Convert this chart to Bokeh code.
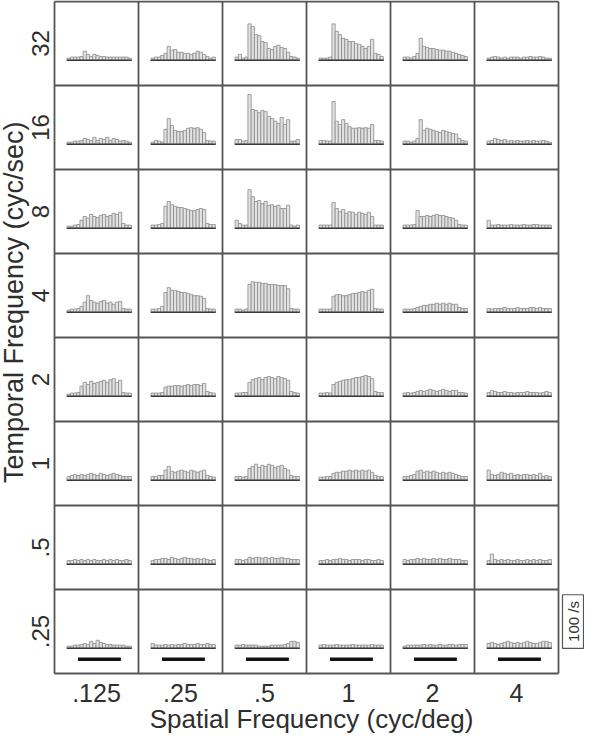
import numpy as np
from bokeh.plotting import figure
from bokeh.models import Range1d, ColumnDataSource
from bokeh.core.properties import value
from bokeh.embed import file_html
from bokeh.resources import INLINE

# ---------------- data ----------------
spatial_freq_labels = [".125", ".25", ".5", "1", "2", "4"]          # columns, left to right (cyc/deg)
temporal_freq_labels = ["32", "16", "8", "4", "2", "1", ".5", ".25"]  # rows, top to bottom (cyc/sec)
n_bins = 20
scale_bar_rate = 100  # spikes/s

# PSTH firing rates (spikes/s), one list of 20 bins per spatial frequency
psth_32 = [
    [4, 6, 6, 6, 7, 17, 11, 7, 11, 9, 7, 7, 6, 6, 6, 6, 6, 6, 6, 4],
    [4, 6, 6, 9, 13, 26, 19, 20, 15, 15, 13, 13, 11, 13, 17, 15, 11, 7, 4, 6],
    [6, 11, 4, 6, 68, 63, 48, 46, 35, 33, 22, 20, 26, 28, 24, 22, 15, 7, 6, 4],
    [4, 4, 4, 6, 68, 54, 48, 41, 39, 35, 35, 31, 30, 26, 22, 26, 39, 13, 11, 7],
    [6, 6, 4, 7, 13, 41, 26, 24, 22, 22, 20, 19, 19, 17, 17, 15, 13, 11, 9, 7],
    [4, 6, 7, 6, 4, 6, 4, 6, 6, 6, 4, 6, 6, 7, 6, 6, 7, 6, 4, 4],
]
psth_16 = [
    [4, 4, 6, 6, 7, 11, 9, 7, 13, 7, 11, 9, 13, 7, 11, 9, 6, 7, 6, 4],
    [4, 7, 6, 4, 28, 48, 35, 26, 24, 24, 26, 30, 31, 30, 31, 28, 22, 7, 6, 6],
    [9, 9, 6, 7, 93, 65, 63, 59, 63, 61, 52, 48, 43, 39, 50, 37, 46, 6, 6, 9],
    [7, 7, 6, 6, 80, 43, 37, 46, 39, 33, 30, 30, 31, 30, 31, 30, 37, 7, 7, 6],
    [6, 6, 4, 6, 11, 46, 26, 30, 28, 26, 24, 22, 26, 24, 22, 20, 19, 11, 7, 6],
    [6, 7, 11, 9, 7, 9, 6, 7, 6, 7, 6, 6, 7, 6, 7, 6, 6, 7, 6, 4],
]
psth_8 = [
    [4, 4, 6, 7, 15, 22, 19, 26, 22, 20, 24, 26, 22, 24, 28, 26, 30, 9, 6, 6],
    [6, 6, 7, 9, 41, 50, 44, 41, 39, 39, 37, 35, 33, 33, 35, 37, 35, 9, 7, 7],
    [15, 9, 6, 6, 72, 59, 50, 52, 46, 50, 43, 44, 41, 43, 37, 37, 43, 6, 4, 6],
    [6, 6, 6, 6, 48, 37, 31, 35, 28, 31, 30, 26, 30, 28, 26, 30, 22, 6, 6, 6],
    [6, 6, 6, 7, 33, 22, 22, 24, 22, 24, 26, 24, 24, 22, 20, 19, 15, 7, 6, 6],
    [15, 6, 6, 7, 6, 6, 6, 7, 6, 6, 6, 7, 6, 6, 7, 7, 6, 6, 6, 6],
]
psth_4 = [
    [4, 6, 6, 7, 11, 19, 31, 22, 19, 17, 20, 22, 17, 19, 15, 19, 20, 7, 6, 6],
    [6, 6, 7, 11, 37, 46, 41, 41, 39, 37, 37, 35, 33, 31, 31, 30, 26, 7, 6, 6],
    [6, 6, 4, 6, 52, 57, 56, 56, 54, 54, 52, 52, 52, 50, 50, 50, 44, 7, 6, 6],
    [6, 6, 6, 6, 30, 33, 33, 31, 31, 33, 35, 35, 37, 39, 37, 41, 43, 7, 6, 6],
    [6, 6, 6, 7, 9, 11, 13, 13, 15, 15, 17, 15, 17, 15, 17, 15, 15, 9, 7, 7],
    [7, 6, 7, 7, 7, 9, 7, 7, 7, 9, 7, 7, 7, 9, 9, 7, 9, 7, 7, 7],
]
psth_2 = [
    [4, 6, 6, 7, 19, 26, 22, 28, 24, 26, 28, 30, 26, 31, 33, 26, 30, 7, 6, 6],
    [6, 6, 6, 7, 17, 19, 19, 20, 20, 19, 20, 22, 20, 22, 22, 20, 24, 9, 7, 6],
    [6, 6, 7, 7, 26, 31, 33, 35, 31, 35, 37, 35, 33, 37, 35, 33, 30, 9, 7, 6],
    [6, 6, 7, 6, 22, 26, 28, 30, 31, 31, 33, 35, 35, 37, 39, 37, 33, 9, 7, 7],
    [6, 7, 6, 7, 9, 11, 9, 11, 13, 11, 9, 11, 13, 11, 9, 11, 11, 7, 7, 6],
    [7, 11, 9, 7, 7, 9, 7, 7, 6, 7, 7, 7, 9, 7, 7, 7, 6, 7, 9, 7],
]
psth_1 = [
    [7, 9, 11, 9, 11, 9, 11, 13, 11, 9, 13, 11, 9, 11, 13, 11, 9, 7, 7, 7],
    [7, 7, 9, 9, 19, 26, 17, 15, 17, 19, 17, 15, 19, 17, 15, 17, 19, 9, 7, 6],
    [7, 7, 6, 7, 22, 26, 30, 24, 28, 26, 30, 28, 24, 26, 28, 22, 19, 9, 7, 7],
    [6, 6, 7, 7, 13, 15, 15, 17, 17, 19, 17, 19, 17, 19, 17, 19, 15, 9, 7, 7],
    [7, 7, 9, 11, 17, 19, 15, 17, 15, 17, 15, 13, 15, 13, 15, 13, 11, 9, 7, 7],
    [19, 11, 9, 11, 15, 13, 11, 13, 9, 11, 9, 11, 11, 9, 11, 9, 13, 7, 9, 7],
]
psth_05 = [
    [7, 7, 9, 7, 9, 7, 9, 7, 9, 7, 7, 9, 7, 9, 7, 9, 7, 7, 9, 7],
    [7, 9, 9, 11, 11, 9, 13, 11, 9, 11, 13, 11, 11, 9, 11, 9, 11, 9, 7, 9],
    [9, 9, 7, 9, 13, 11, 13, 13, 11, 13, 11, 13, 11, 11, 13, 11, 11, 9, 9, 9],
    [7, 7, 9, 7, 9, 9, 11, 9, 9, 7, 9, 9, 9, 7, 9, 9, 7, 7, 9, 7],
    [9, 7, 9, 9, 11, 9, 11, 9, 9, 11, 9, 11, 9, 9, 11, 9, 9, 9, 7, 7],
    [7, 19, 9, 7, 9, 7, 9, 7, 7, 9, 7, 7, 9, 7, 9, 7, 9, 7, 7, 9],
]
psth_025 = [
    [4, 4, 6, 6, 7, 9, 7, 13, 9, 15, 11, 9, 7, 7, 6, 6, 6, 6, 4, 4],
    [9, 6, 6, 6, 7, 6, 7, 6, 7, 7, 9, 7, 7, 7, 9, 7, 7, 9, 7, 7],
    [6, 6, 7, 6, 6, 6, 6, 4, 4, 4, 4, 6, 6, 6, 6, 7, 9, 13, 13, 11],
    [6, 7, 6, 6, 6, 7, 6, 6, 6, 6, 7, 6, 6, 6, 6, 6, 7, 6, 6, 6],
    [4, 6, 6, 6, 6, 6, 7, 6, 7, 6, 6, 7, 6, 6, 7, 7, 6, 7, 7, 7],
    [9, 11, 9, 7, 9, 11, 13, 11, 9, 11, 9, 11, 13, 11, 9, 9, 11, 13, 13, 11],
]
psth_rows = [psth_32, psth_16, psth_8, psth_4, psth_2, psth_1, psth_05, psth_025]

# ---------------- layout (cell units) ----------------
W, H = 584, 734
CELL = 84.0                 # px per cell
GRID_LEFT_PX, GRID_TOP_PX = 54, 1
n_cols, n_rows = len(spatial_freq_labels), len(temporal_freq_labels)
grid_bottom_px = GRID_TOP_PX + n_rows * CELL

HIST_X0, HIST_X1 = 0.15, 0.915     # histogram extent inside a cell
BASE = 0.30                         # baseline height inside a cell
UNIT = 0.6375 / scale_bar_rate      # cell units per spike/s
STIM_X0, STIM_X1, STIM_Y = 0.28, 0.79, 0.17

p = figure(width=W, height=H, output_backend="svg", toolbar_location=None,
           x_axis_type=None, y_axis_type=None,
           min_border=0, min_border_left=0, min_border_right=0,
           min_border_top=0, min_border_bottom=0)
p.x_range = Range1d(-GRID_LEFT_PX / CELL, (W - GRID_LEFT_PX) / CELL)
p.y_range = Range1d(-(H - grid_bottom_px) / CELL, n_rows + GRID_TOP_PX / CELL)
p.grid.visible = False
p.outline_line_color = None
p.background_fill_color = "white"
p.border_fill_color = "white"

# histogram bars
bw = (HIST_X1 - HIST_X0) / n_bins
L, R, T, B = [], [], [], []
bx0, bx1, by = [], [], []
for r, row in enumerate(psth_rows):
    y0 = (n_rows - 1 - r) + BASE
    for c, rates in enumerate(row):
        for b, v in enumerate(rates):
            left = c + HIST_X0 + b * bw
            L.append(left); R.append(left + bw)
            B.append(y0); T.append(y0 + v * UNIT)
        bx0.append(c + HIST_X0 - 0.005); bx1.append(c + HIST_X1 + 0.005); by.append(y0)

p.quad(left="l", right="r", top="t", bottom="b",
       source=ColumnDataSource(dict(l=L, r=R, t=T, b=B)),
       fill_color="#e2e2e2", line_color="#8a8a8a", line_width=0.8)
p.segment(x0=bx0, y0=by, x1=bx1, y1=by, line_color="#3a3a3a", line_width=1.6)

# stimulus time bars under bottom row
p.segment(x0=[c + STIM_X0 for c in range(n_cols)], y0=[STIM_Y] * n_cols,
          x1=[c + STIM_X1 for c in range(n_cols)], y1=[STIM_Y] * n_cols,
          line_color="#111111", line_width=3.5)

# grid lines
gx = list(range(n_cols + 1))
gy = list(range(n_rows + 1))
p.segment(x0=gx, y0=[0] * len(gx), x1=gx, y1=[n_rows] * len(gx),
          line_color="#555555", line_width=1.8)
p.segment(x0=[0] * len(gy), y0=gy, x1=[n_cols] * len(gy), y1=gy,
          line_color="#555555", line_width=1.8)

# scale bar box
sx0 = n_cols + 4 / CELL
sx1 = n_cols + 25 / CELL
p.quad(left=[sx0], right=[sx1], bottom=[BASE], top=[BASE + scale_bar_rate * UNIT],
       fill_color=None, line_color="#555555", line_width=1.2)
p.text(x=[(sx0 + sx1) / 2], y=[BASE + scale_bar_rate * UNIT / 2], text=[f"{scale_bar_rate} /s"],
       angle=np.pi / 2, text_align="center", text_baseline="middle",
       text_font=value("Liberation Sans"), text_font_size=value("15px"), text_color="#333333")

FONT = value("Liberation Sans")
TXT = "#2e2e2e"
# column labels
p.text(x=[c + 0.5 for c in range(n_cols)], y=[-(692 - grid_bottom_px) / CELL] * n_cols,
       text=spatial_freq_labels, text_align="center", text_baseline="middle",
       text_font=FONT, text_font_size=value("25px"), text_color=TXT)
# row labels
p.text(x=[-(GRID_LEFT_PX - 40) / CELL] * n_rows, y=[n_rows - r - 0.5 for r in range(n_rows)],
       text=temporal_freq_labels, angle=np.pi / 2, text_align="center", text_baseline="middle",
       text_font=FONT, text_font_size=value("24px"), text_color=TXT)
# axis titles
p.text(x=[n_cols / 2 + 0.06], y=[-(718 - grid_bottom_px) / CELL],
       text=["Spatial Frequency (cyc/deg)"], text_align="center", text_baseline="middle",
       text_font=FONT, text_font_size=value("26px"), text_color=TXT)
p.text(x=[-(GRID_LEFT_PX - 13) / CELL], y=[4.42],
       text=["Temporal Frequency (cyc/sec)"], angle=np.pi / 2, text_align="center", text_baseline="middle",
       text_font=FONT, text_font_size=value("27px"), text_color=TXT)

open("out.html", "w").write(file_html(p, INLINE))
